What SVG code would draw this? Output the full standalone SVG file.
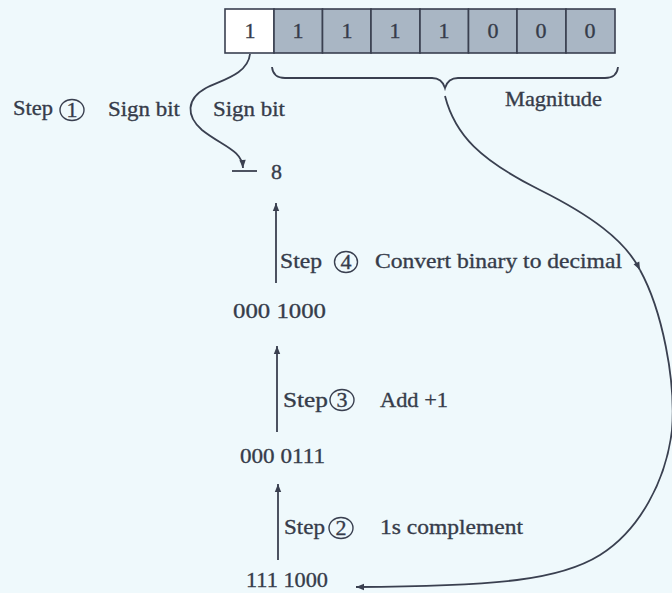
<svg xmlns="http://www.w3.org/2000/svg" width="672" height="593" viewBox="0 0 672 593">
  <defs>
    <style>
      .t { font-family: "Liberation Serif", "Times New Roman", serif; font-size: 22px; fill: #363c4a; stroke: #363c4a; stroke-width: 0.35; }
      .c { text-anchor: middle; }
      .ln { fill: none; stroke: #3a4050; stroke-width: 1.8; }
      .cell { stroke: #3a4050; stroke-width: 1.6; }
      .bit { fill: #a9b6c4; }
      .sign { fill: #ffffff; }
      .ring { fill: none; stroke: #3a4050; stroke-width: 1.4; }
    </style>
    <marker id="ah" viewBox="0 0 10 10" refX="10" refY="5" markerWidth="10" markerHeight="8" markerUnits="userSpaceOnUse" orient="auto">
      <path d="M0,1 L10,5 L0,9 z" fill="#3a4050"/>
    </marker>
  </defs>
  <rect width="672" height="593" fill="#eff9fc"/>

  <!-- 8-bit register -->
  <g id="register">
    <rect class="cell sign" x="225" y="9" width="49" height="44"/>
    <rect class="cell bit" x="274" y="9" width="48.5" height="44"/>
    <rect class="cell bit" x="322.5" y="9" width="48.5" height="44"/>
    <rect class="cell bit" x="371" y="9" width="49" height="44"/>
    <rect class="cell bit" x="420" y="9" width="48.5" height="44"/>
    <rect class="cell bit" x="468.5" y="9" width="48.5" height="44"/>
    <rect class="cell bit" x="517" y="9" width="49" height="44"/>
    <rect class="cell bit" x="566" y="9" width="49" height="44"/>
    <text class="t c" x="250" y="38">1</text>
    <text class="t c" x="298" y="38">1</text>
    <text class="t c" x="347" y="38">1</text>
    <text class="t c" x="395" y="38">1</text>
    <text class="t c" x="444" y="38">1</text>
    <text class="t c" x="493" y="38">0</text>
    <text class="t c" x="541" y="38">0</text>
    <text class="t c" x="590" y="38">0</text>
  </g>

  <!-- magnitude brace -->
  <g id="magnitude">
    <path class="ln" d="M272,67 Q273,78 285,78 L432,78 Q442,78 445,88 Q448,78 458,78 L605,78 Q617,78 618,67"/>
    <text class="t" x="505" y="106" textLength="97" lengthAdjust="spacingAndGlyphs">Magnitude</text>
  </g>

  <g id="step1">
    <text class="t" x="13" y="115" textLength="40" lengthAdjust="spacingAndGlyphs">Step</text>
    <ellipse class="ring" cx="72" cy="110" rx="12" ry="10.5"/>
    <text class="t c" x="72" y="117" font-size="19">1</text>
    <text class="t" x="108" y="116" textLength="72" lengthAdjust="spacingAndGlyphs">Sign bit</text>
    <text class="t" x="213" y="116" textLength="72" lengthAdjust="spacingAndGlyphs">Sign bit</text>
  </g>

  <g id="result">
    <path class="ln" d="M232,171 L257,171"/>
    <text class="t" x="271" y="179">8</text>
  </g>

  <g id="step4">
    <text class="t" x="280" y="268" textLength="42" lengthAdjust="spacingAndGlyphs">Step</text>
    <ellipse class="ring" cx="346" cy="262" rx="11.5" ry="10.5"/>
    <text class="t c" x="346" y="269" font-size="19">4</text>
    <text class="t" x="375" y="268" textLength="247" lengthAdjust="spacingAndGlyphs">Convert binary to decimal</text>
  </g>

  <g id="value-0001000">
    <text class="t" x="233" y="318" textLength="93" lengthAdjust="spacingAndGlyphs">000 1000</text>
  </g>

  <g id="step3">
    <text class="t" x="283" y="407" textLength="45" lengthAdjust="spacingAndGlyphs">Step</text>
    <ellipse class="ring" cx="342" cy="400" rx="12" ry="10.5"/>
    <text class="t c" x="342" y="407" font-size="19">3</text>
    <text class="t" x="380" y="407" textLength="68" lengthAdjust="spacingAndGlyphs">Add +1</text>
  </g>

  <g id="value-0000111">
    <text class="t" x="240" y="463" textLength="85" lengthAdjust="spacingAndGlyphs">000 0111</text>
  </g>

  <g id="step2">
    <text class="t" x="284" y="534" textLength="41" lengthAdjust="spacingAndGlyphs">Step</text>
    <ellipse class="ring" cx="341" cy="528" rx="12" ry="10.5"/>
    <text class="t c" x="341" y="535" font-size="19">2</text>
    <text class="t" x="380" y="534" textLength="143" lengthAdjust="spacingAndGlyphs">1s complement</text>
  </g>

  <g id="value-1111000">
    <text class="t" x="246" y="587" textLength="82" lengthAdjust="spacingAndGlyphs">111 1000</text>
  </g>

  <!-- connectors -->
  <g id="connectors">
    <path class="ln" marker-end="url(#ah)" d="M250,54 C248,74 222,80 206,88 C186,99 186,116 202,130 C222,146 242,150 243,168"/>
    <path class="ln" marker-end="url(#ah)" d="M276,283 L276,203"/>
    <path class="ln" marker-end="url(#ah)" d="M277,432 L277,346"/>
    <path class="ln" marker-end="url(#ah)" d="M278,560 L278,484"/>
    <path class="ln" marker-end="url(#ah)" d="M445,96 C455,135 480,160 540,190 C590,215 625,240 640,270"/>
    <path class="ln" marker-end="url(#ah)" d="M640,270 C662,310 676,380 672,430 C666,480 640,530 600,555 C560,580 500,586 356,587"/>
  </g>
</svg>
